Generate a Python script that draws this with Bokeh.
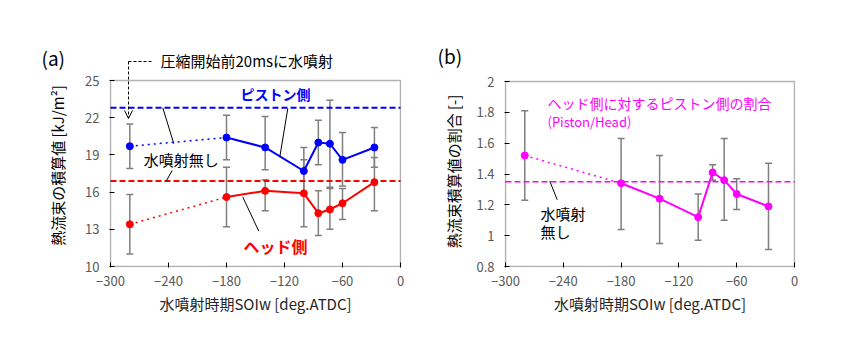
import math
from bokeh.plotting import figure
from bokeh.layouts import row
from bokeh.models import (ColumnDataSource, Whisker, TeeHead, Label, Arrow,
                          OpenHead, FixedTicker, Range1d, BoxAnnotation)
from bokeh.embed import file_html
from bokeh.resources import INLINE

# ---------------- data ----------------
soiw = [-280, -180, -140, -100, -85, -73, -60, -27]

piston_mean = [19.7, 20.4, 19.6, 17.7, 20.0, 19.9, 18.6, 19.6]
piston_upper = [21.5, 22.2, 22.1, 19.6, 21.8, 23.4, 20.8, 21.2]
piston_lower = [17.9, 18.6, 17.8, 15.8, 18.2, 16.3, 16.5, 18.0]

head_mean = [13.4, 15.6, 16.1, 15.9, 14.3, 14.6, 15.1, 16.8]
head_upper = [15.8, 18.0, 17.0, 18.6, 16.1, 16.4, 16.3, 18.8]
head_lower = [11.0, 13.2, 14.5, 13.2, 12.5, 13.0, 13.8, 14.5]

ratio_mean = [1.52, 1.34, 1.24, 1.12, 1.41, 1.36, 1.27, 1.19]
ratio_upper = [1.81, 1.63, 1.52, 1.27, 1.46, 1.63, 1.37, 1.47]
ratio_lower = [1.23, 1.04, 0.95, 0.97, 1.36, 1.10, 1.17, 0.91]

piston_no_injection = 22.8
head_no_injection = 16.9
ratio_no_injection = 1.35

x_ticks = [-300, -240, -180, -120, -60, 0]
a_ticks = [10, 13, 16, 19, 22, 25]
b_ticks = [0.8, 1.0, 1.2, 1.4, 1.6, 1.8, 2.0]

X_LABEL = "水噴射時期SOIw [deg.ATDC]"

FONT = "Noto Sans CJK JP"
BLUE = "#0000FF"
RED = "#FF0000"
MAG = "#FF00FF"
GRAY = "#7F7F7F"
TICKC = "#595959"

H = 350
FRAME_BOT = 267                 # frame bottom (canvas px); boxes end at 266
BOT_BORDER = H - FRAME_BOT

# canvas split: [0,70) side texts of (a) | [70,405) panel (a) | [405,465) side texts of (b) | [465,850) panel (b)
C0, C1, C2, C3 = 70, 405, 465, 850

# ---- panel (a) box: x=110..400 px, y=80..266 px ----
A_LEFT, A_RIGHT, A_TOP, A_BOT = 110, 400, 80, 266
a_sx = (A_RIGHT - A_LEFT) / 300.0
a_sy = (A_BOT - A_TOP) / 15.0

# ---- panel (b) box: x=505..794 px, y=81..266 px ----
B_LEFT, B_RIGHT, B_TOP, B_BOT = 505, 794, 81, 266
b_sx = (B_RIGHT - B_LEFT) / 300.0
b_sy = (B_BOT - B_TOP) / 1.2


def ax(px):
    return -300 + (px - A_LEFT) / a_sx


def ay(py):
    return 25 - (py - A_TOP) / a_sy


def bx(px):
    return -300 + (px - B_LEFT) / b_sx


def by(py):
    return 2.0 - (py - B_TOP) / b_sy


def style_axis(ax_):
    ax_.axis_line_color = None
    ax_.major_tick_in = 5
    ax_.major_tick_out = 0
    ax_.minor_tick_in = 0
    ax_.minor_tick_out = 0
    ax_.major_tick_line_color = "black"
    ax_.major_tick_line_width = 1
    ax_.major_label_text_font = FONT
    ax_.major_label_text_font_size = "13px"
    ax_.major_label_text_color = TICKC
    ax_.axis_label_text_font = FONT
    ax_.axis_label_text_font_size = "15px"
    ax_.axis_label_text_font_style = "normal"
    ax_.axis_label_text_color = "#262626"


def base_style(p, yticks):
    p.xgrid.visible = False
    p.ygrid.visible = False
    p.outline_line_color = None
    p.xaxis.ticker = FixedTicker(ticks=x_ticks)
    p.yaxis.ticker = FixedTicker(ticks=yticks)
    style_axis(p.xaxis[0])
    style_axis(p.yaxis[0])
    p.xaxis.major_label_standoff = 8
    p.yaxis.major_label_standoff = 10
    p.xaxis.axis_label = X_LABEL
    p.xaxis.axis_label_standoff = 4


def blank_fig(x0, x1):
    p = figure(width=x1 - x0, height=H, output_backend="svg", toolbar_location=None,
               x_range=Range1d(x0, x1), y_range=Range1d(FRAME_BOT, 0),
               x_axis_location=None, y_axis_location=None,
               min_border_left=0, min_border_right=0, min_border_top=0,
               min_border_bottom=BOT_BORDER)
    p.outline_line_color = None
    p.grid.visible = False
    return p


def series(p, mean, upper, lower, color, lw=2):
    src = ColumnDataSource(dict(x=soiw, y=mean, up=upper, lo=lower))
    w = Whisker(base="x", upper="up", lower="lo", source=src,
                line_color=GRAY, line_width=1.5, level="underlay",
                upper_head=TeeHead(size=7, line_color=GRAY, line_width=1.5),
                lower_head=TeeHead(size=7, line_color=GRAY, line_width=1.5))
    p.add_layout(w)
    first = ColumnDataSource(dict(x=soiw[:2], y=mean[:2]))
    rest = ColumnDataSource(dict(x=soiw[1:], y=mean[1:]))
    p.line("x", "y", source=first, line_color=color, line_width=1.5, line_dash="dotted")
    p.line("x", "y", source=rest, line_color=color, line_width=lw)
    p.scatter("x", "y", source=src, size=7, fill_color=color, line_color=color)


def ref_line(p, yval, color, lw):
    p.segment(x0=[x_ticks[0]], y0=[yval], x1=[x_ticks[-1]], y1=[yval],
              line_color=color, line_width=lw, line_dash="6 3")


def leader(p, x0, y0, x1, y1):
    p.segment(x0=[x0], y0=[y0], x1=[x1], y1=[y1], line_color="black", line_width=1)


def txt(p, x, y, text, size="15px", color="black", bold=False, align="left", angle=0.0):
    p.add_layout(Label(x=x, y=y, text=text, text_font=FONT, text_font_size=size,
                       text_font_style="bold" if bold else "normal", text_color=color,
                       text_align=align, text_baseline="middle", angle=angle))


# ---------------- side texts of (a) ----------------
p0 = blank_fig(0, C0)
txt(p0, 41, 57, "(a)", "19px")
txt(p0, 57, 165, "熱流束の積算値 [kJ/m²]", "15px", align="center", angle=math.pi / 2)

# ---------------- (a) ----------------
A_FL, A_FR = A_LEFT - 1, A_RIGHT + 1
pa = figure(width=C1 - C0, height=H, output_backend="svg", toolbar_location=None,
            x_range=Range1d(ax(A_FL), ax(A_FR)),
            y_range=Range1d(ay(FRAME_BOT), ay(0)),
            min_border_left=A_FL - C0, min_border_right=C1 - A_FR, min_border_top=0,
            min_border_bottom=BOT_BORDER)
base_style(pa, a_ticks)

pa.add_layout(BoxAnnotation(left=-300, right=0, bottom=10, top=25, fill_alpha=0,
                            line_color="black", line_width=1.5, level="overlay"))
ref_line(pa, piston_no_injection, BLUE, 2)
ref_line(pa, head_no_injection, RED, 2)

series(pa, piston_mean, piston_upper, piston_lower, BLUE)
series(pa, head_mean, head_upper, head_lower, RED)

leader(pa, -116.6, 22.74, -124.9, 18.81)
leader(pa, -245.9, 22.8, -234.5, 19.9)
leader(pa, -236.2, 17.74, -242.4, 16.88)
leader(pa, -163.1, 15.59, -146.6, 12.85)

txt(pa, -129.3, 23.93, "ピストン側", "14px", BLUE, True, "center")
txt(pa, -265.5, 18.6, "水噴射無し", "15px")
txt(pa, -129.3, 11.69, "ヘッド側", "16px", RED, True, "center")

txt(pa, ax(160), ay(60), "圧縮開始前20msに水噴射", "15px")
pa.add_layout(Arrow(x_start=ax(151), y_start=ay(61), x_end=ax(128), y_end=ay(61), end=None,
                    line_color="black", line_width=1, line_dash="3 2"))
pa.add_layout(Arrow(x_start=ax(128), y_start=ay(61), x_end=ax(128), y_end=ay(118),
                    end=OpenHead(size=8, line_color="black", line_width=1),
                    line_color="black", line_width=1, line_dash="3 2"))

# ---------------- side texts of (b) ----------------
pm = blank_fig(C1, C2)
txt(pm, 437, 55, "(b)", "19px")
txt(pm, 453, 171, "熱流束積算値の割合 [-]", "15px", align="center", angle=math.pi / 2)

# ---------------- (b) ----------------
B_FL, B_FR = B_LEFT - 1, B_RIGHT + 1
pb = figure(width=C3 - C2, height=H, output_backend="svg", toolbar_location=None,
            x_range=Range1d(bx(B_FL), bx(B_FR)), y_range=Range1d(by(FRAME_BOT), by(0)),
            min_border_left=B_FL - C2, min_border_right=C3 - B_FR, min_border_top=0,
            min_border_bottom=BOT_BORDER)
base_style(pb, b_ticks)
pb.yaxis.major_label_overrides = {0.8: "0.8", 1.0: "1", 1.2: "1.2", 1.4: "1.4",
                                  1.6: "1.6", 1.8: "1.8", 2.0: "2"}
pb.add_layout(BoxAnnotation(left=-300, right=0, bottom=0.8, top=2.0, fill_alpha=0,
                            line_color="black", line_width=1.5, level="overlay"))

ref_line(pb, ratio_no_injection, MAG, 1.5)
series(pb, ratio_mean, ratio_upper, ratio_lower, MAG)
leader(pb, -254.0, 1.353, -246.3, 1.233)

txt(pb, -256.4, 1.859, "ヘッド側に対するピストン側の割合", "14px", MAG)
txt(pb, -256.4, 1.741, "(Piston/Head)", "13px", MAG)
txt(pb, -263.7, 1.144, "水噴射", "15px")
txt(pb, -263.7, 1.027, "無し", "15px")

layout = row(p0, pa, pm, pb)
open("out.html", "w").write(file_html(layout, INLINE))
